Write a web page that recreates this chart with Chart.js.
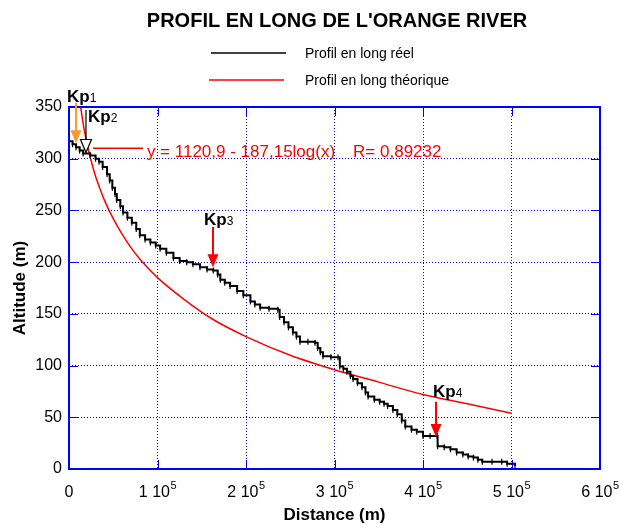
<!DOCTYPE html>
<html>
<head>
<meta charset="utf-8">
<script src="https://cdn.jsdelivr.net/npm/chart.js@4.4.1/dist/chart.umd.min.js"></script>
<style>
  body { margin: 0; background: #fff; }
  canvas { display: block; }
</style>
</head>
<body>
<canvas id="profil" width="621" height="525"></canvas>
<script>
// Profil en long réel (distance en m, altitude en m)
const distReel = [0, 4000, 8000, 12000, 16000, 24000, 30000, 34000, 38000, 43000,
  46000, 49000, 52000, 54000, 58000, 61000, 66000, 71000, 76000, 80000,
  86000, 92000, 98000, 103000, 110000, 118000, 125000, 133000, 140000, 148000,
  156000, 163000, 168000, 171000, 176000, 182000, 190000, 197000, 205000, 210000,
  216000, 226000, 236000, 238000, 243000, 248000, 253000, 257000, 261000, 270000,
  278000, 281000, 284000, 287000, 296000, 304000, 306000, 310000, 314000, 318000,
  321000, 326000, 331000, 335000, 338000, 345000, 351000, 356000, 360000, 366000,
  371000, 376000, 380000, 387000, 393000, 400000, 408000, 416000, 416500, 424000,
  431000, 438000, 445000, 451000, 457000, 462000, 467000, 478000, 489000, 495000,
  504000];
const altReel = [317, 314, 311, 308, 305, 303, 300, 297, 292, 285,
  279, 272, 266, 260, 254, 248, 243, 238, 232, 226,
  222, 219, 216, 213, 209, 204, 201, 200, 198, 195,
  193, 192, 188, 183, 180, 177, 172, 168, 162, 159,
  156, 155, 154, 147, 142, 137, 132, 128, 123, 123,
  122, 117, 113, 109, 108, 108, 99, 97, 94, 90,
  87, 83, 79, 74, 70, 67, 65, 63, 61, 57,
  53, 47, 41, 38, 36, 32, 32, 32, 22, 21,
  19, 16, 14, 12, 11, 9, 7, 7, 7, 5,
  3];

// Profil en long théorique
const distTheo = [12500, 16000, 20000, 25000, 30000, 35000, 40000, 50000, 60000, 70000,
  80000, 100000, 130000, 160000, 200000, 250000, 300000, 350000, 400000, 450000, 500000];
const altTheo = [354, 334, 316, 298, 283, 271, 260, 242, 227, 214,
  203, 185, 164, 146, 128, 110, 96, 84, 72, 63, 54];

const xTicks = [0, 100000, 200000, 300000, 400000, 500000, 600000];
const xTickLabels = ['0', '1 10^5', '2 10^5', '3 10^5', '4 10^5', '5 10^5', '6 10^5'];

const titre = "PROFIL EN LONG DE L'ORANGE RIVER";
const equation = 'y = 1120,9 - 187,15log(x)';
const coefR = 'R= 0,89232';

// Points Kp : flèches (distance, altitude du haut, altitude de la pointe)
const kpNoms = ['1', '2', '3', '4'];
const kpX = [7900, 19200, 162700, 414700];
const kpHaut = [354, 347, 234, 65];
const kpPointe = [315, 306, 195, 31];
const kpCouleurs = ['#ff9a2e', '#000000', '#ff0000', '#ff0000'];

const police = 'Liberation Sans, Arial, sans-serif';

const decor = {
  id: 'decor',
  afterDraw(chart) {
    const ctx = chart.ctx;
    const a = chart.chartArea;
    const sx = chart.scales.x, sy = chart.scales.y;
    ctx.save();

    // cadre bleu + petites graduations internes
    ctx.strokeStyle = '#0000ff';
    ctx.lineWidth = 2;
    ctx.strokeRect(a.left, a.top, a.right - a.left, a.bottom - a.top);
    ctx.lineWidth = 1;
    ctx.beginPath();
    xTicks.forEach(v => {
      const px = Math.round(sx.getPixelForValue(v)) + 0.5;
      ctx.moveTo(px, a.bottom); ctx.lineTo(px, a.bottom - 9);
      ctx.moveTo(px, a.top); ctx.lineTo(px, a.top + 9);
    });
    sy.ticks.forEach(t => {
      const py = Math.round(sy.getPixelForValue(t.value)) + 0.5;
      ctx.moveTo(a.left, py); ctx.lineTo(a.left + 9, py);
      ctx.moveTo(a.right, py); ctx.lineTo(a.right - 9, py);
    });
    ctx.stroke();

    // étiquettes de l'axe x avec exposant
    ctx.fillStyle = '#000';
    ctx.textBaseline = 'alphabetic';
    ctx.textAlign = 'left';
    xTicks.forEach((v, i) => {
      const [base, exp] = xTickLabels[i].split('^');
      ctx.font = '16px ' + police;
      const wb = ctx.measureText(base).width;
      ctx.font = '11px ' + police;
      const we = exp ? ctx.measureText(exp).width : 0;
      const x0 = sx.getPixelForValue(v) - (wb + we) / 2;
      ctx.font = '16px ' + police;
      ctx.fillText(base, x0, 497);
      if (exp) {
        ctx.font = '11px ' + police;
        ctx.fillText(exp, x0 + wb + 0.5, 489);
      }
    });

    // titres des axes
    ctx.font = 'bold 17px ' + police;
    ctx.textAlign = 'center';
    ctx.fillText('Distance (m)', (a.left + a.right) / 2, 520);
    ctx.save();
    ctx.translate(25, (a.top + a.bottom) / 2);
    ctx.rotate(-Math.PI / 2);
    ctx.fillText('Altitude (m)', 0, 0);
    ctx.restore();

    // titre
    ctx.font = 'bold 20px ' + police;
    ctx.fillText(titre, 337, 27);

    // légende
    ctx.textAlign = 'left';
    ctx.font = '14px ' + police;
    chart.data.datasets.forEach((ds, i) => {
      const y = 53 + i * 27;
      ctx.strokeStyle = ds.borderColor;
      ctx.lineWidth = 1.5;
      ctx.beginPath();
      ctx.moveTo(211 - i * 2, y); ctx.lineTo(286 - i * 2, y);
      ctx.stroke();
      ctx.fillStyle = '#000';
      ctx.fillText(ds.label, 305, y + 5);
    });

    // équation de la courbe théorique
    const ey = sy.getPixelForValue(310);
    ctx.strokeStyle = '#ff0000';
    ctx.lineWidth = 1.5;
    ctx.beginPath();
    ctx.moveTo(sx.getPixelForValue(27100), ey);
    ctx.lineTo(sx.getPixelForValue(83600), ey);
    ctx.stroke();
    ctx.fillStyle = '#ff0000';
    ctx.font = '17px ' + police;
    ctx.fillText(equation, sx.getPixelForValue(88000), ey + 9);
    ctx.fillText(coefR, sx.getPixelForValue(321000), ey + 9);

    // flèches Kp
    const dx = [-9, 2, -9, -3];
    const dy = [-1, 12, -2, -5];
    kpNoms.forEach((n, i) => {
      const px = sx.getPixelForValue(kpX[i]);
      const y1 = sy.getPixelForValue(kpHaut[i]);
      const y2 = sy.getPixelForValue(kpPointe[i]);
      const c = kpCouleurs[i];
      const ouverte = i === 1;
      ctx.strokeStyle = c;
      ctx.fillStyle = c;
      ctx.lineWidth = ouverte ? 1.2 : 2;
      ctx.beginPath();
      ctx.moveTo(px, y1); ctx.lineTo(px, y2 - 12);
      ctx.stroke();
      ctx.beginPath();
      ctx.moveTo(px - 5.5, y2 - 13);
      ctx.lineTo(px + 5.5, y2 - 13);
      ctx.lineTo(px, y2);
      ctx.closePath();
      if (ouverte) {
        ctx.fillStyle = '#fff'; ctx.fill(); ctx.stroke();
      } else {
        ctx.fill();
      }
      // étiquette
      ctx.fillStyle = '#000';
      ctx.font = 'bold 17px ' + police;
      const lx = px + dx[i], ly = y1 + dy[i];
      ctx.fillText('Kp', lx, ly);
      const w = ctx.measureText('Kp').width;
      ctx.font = '12px ' + police;
      ctx.fillText(n, lx + w, ly);
    });

    ctx.restore();
  }
};

const grille = { color: '#0000ff', lineWidth: 1, drawTicks: false };

new Chart(document.getElementById('profil').getContext('2d'), {
  type: 'line',
  data: {
    datasets: [{
      label: 'Profil en long réel',
      data: distReel.map((d, i) => ({ x: d, y: altReel[i] })),
      borderColor: '#000000',
      borderWidth: 2,
      stepped: true,
      pointStyle: 'line',
      rotation: 90,
      pointRadius: 3,
      pointBorderWidth: 1.2,
      pointBorderColor: '#000000',
      fill: false
    }, {
      label: 'Profil en long théorique',
      data: distTheo.map((d, i) => ({ x: d, y: altTheo[i] })),
      borderColor: '#ff0000',
      borderWidth: 1.5,
      pointRadius: 0,
      cubicInterpolationMode: 'monotone',
      fill: false
    }]
  },
  options: {
    responsive: false,
    animation: false,
    layout: { padding: { top: 107, right: 21, bottom: 0, left: 0 } },
    plugins: { legend: { display: false }, tooltip: { enabled: false } },
    scales: {
      x: {
        type: 'linear', min: 0, max: 600000,
        ticks: { display: false, stepSize: 100000 },
        grid: grille,
        border: { display: false, dash: [1, 2] },
        afterFit(s) { s.height = 56; }
      },
      y: {
        min: 0, max: 350,
        ticks: { stepSize: 50, color: '#000', padding: 7, font: { family: police, size: 16 } },
        grid: grille,
        border: { display: false, dash: [1, 2] },
        afterFit(s) { s.width = 69; }
      }
    }
  },
  plugins: [decor]
});
</script>
</body>
</html>
